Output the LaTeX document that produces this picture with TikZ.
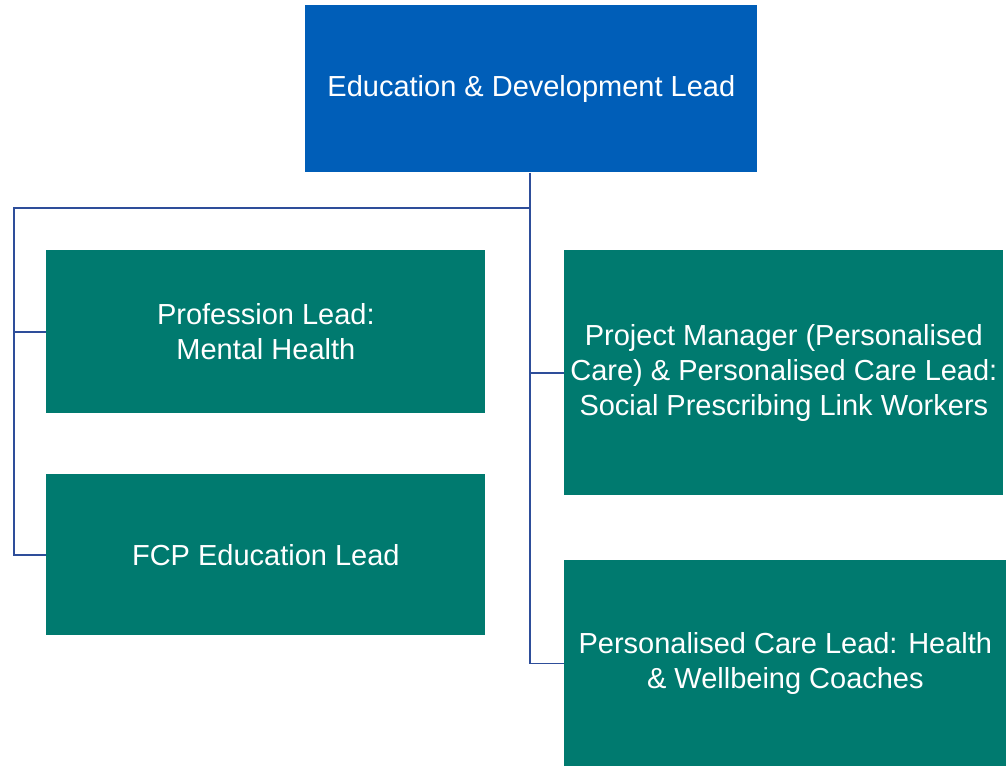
\documentclass[tikz,border=0pt]{standalone}
\usepackage{fontspec}
\setmainfont{Liberation Sans}
\definecolor{leadblue}{HTML}{005EB8}
\definecolor{teamgreen}{HTML}{007A6F}
\definecolor{linkblue}{HTML}{2E4E9A}
\tikzset{
	leadbox/.style={fill=leadblue, text=white, anchor=north west, inner sep=0pt, align=center, font=\fontsize{16.5}{19.9}\selectfont},
	teambox/.style={fill=teamgreen, text=white, anchor=north west, inner sep=0pt, align=center, font=\fontsize{16.5}{19.9}\selectfont},
	link/.style={linkblue, line width=0.9pt}
}
\begin{document}
\begin{tikzpicture}[x=0.02cm, y=-0.02cm]
		\useasboundingbox (0,0) rectangle (1006,766);

		\node[leadbox, minimum width=452*0.02cm, minimum height=167*0.02cm] (edu) at (305,5) {Education \& Development Lead};

		\node[teambox, minimum width=439*0.02cm, minimum height=163*0.02cm] (mh) at (46,250) {Profession Lead:\\Mental Health};
		\node[teambox, minimum width=439*0.02cm, minimum height=161*0.02cm] (fcp) at (46,474) {FCP Education Lead};
		\node[teambox, minimum width=439*0.02cm, minimum height=245*0.02cm] (pm) at (564,250) {Project Manager (Personalised\\Care) \& Personalised Care Lead:\\Social Prescribing Link Workers};
		\node[teambox, minimum width=442*0.02cm, minimum height=206*0.02cm] (hwc) at (564,560) {Personalised Care Lead: Health\\\& Wellbeing Coaches};

		\coordinate (split) at (530,208);
		\coordinate (leftbus) at (14,208);

		\draw[link] (edu.south -| split) -- (split) -- (leftbus) |- (fcp.west);
		\draw[link] (leftbus |- mh.west) -- (mh.west);
		\draw[link] (split) |- (hwc.west);
		\draw[link] (split |- pm.west) -- (pm.west);
	\end{tikzpicture}
\end{document}
